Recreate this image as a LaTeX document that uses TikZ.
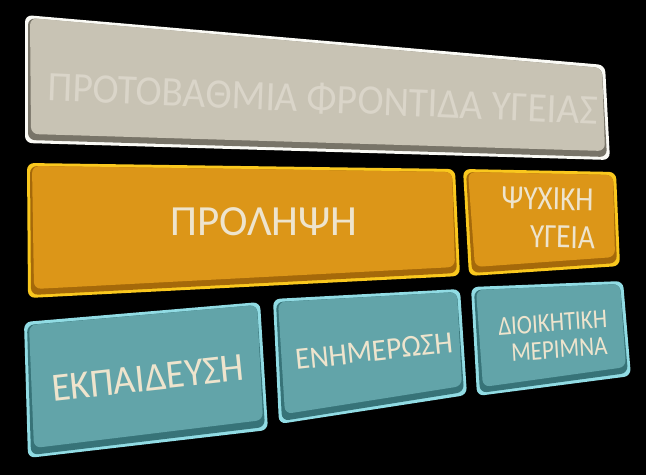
\documentclass[tikz,border=0pt]{standalone}
\usepackage{fontspec}
\setmainfont{Carlito}

\definecolor{greyrim}{RGB}{250,250,245}
\definecolor{greydark}{RGB}{120,116,104}
\definecolor{greyface}{RGB}{200,195,180}
\definecolor{greytext}{RGB}{218,213,201}
\definecolor{orangerim}{RGB}{250,200,30}
\definecolor{orangedark}{RGB}{165,105,10}
\definecolor{orangeface}{RGB}{220,150,24}
\definecolor{tealrim}{RGB}{145,220,228}
\definecolor{tealdark}{RGB}{55,115,120}
\definecolor{tealface}{RGB}{98,164,169}
\definecolor{cream}{RGB}{238,228,205}

\tikzset{
  rim/.style={rounded corners=7pt},
  label/.style={text=cream, align=center, inner sep=0pt},
}

\begin{document}
\begin{tikzpicture}[x=1pt,y=-1pt]
    \fill[black] (0,0) rectangle (646,475);
    \useasboundingbox (0,0) rectangle (646,475);

    % top row
    \fill[greyrim, rim] (25,15) -- (605,65) -- (610,160) -- (25,143) -- cycle;
    \fill[greydark, rim] (28,18) -- (602,68) -- (607,157) -- (28,140) -- cycle;
    \fill[greyface, rim] (30,18) -- (602,68) -- (605,151) -- (31,134) -- cycle;
    \node[label, text=greytext, font=\fontsize{42}{44}\selectfont, xscale=0.94, rotate=-2.3] (pfy) at (323,99) {ΠΡΟΤΟΒΑΘΜΙΑ ΦΡΟΝΤΙΔΑ ΥΓΕΙΑΣ};

    % middle row
    \fill[orangerim, rim] (27,163) -- (455,169) -- (460,276) -- (28,298) -- cycle;
    \fill[orangedark, rim] (30,166) -- (452,172) -- (457,273) -- (31,295) -- cycle;
    \fill[orangeface, rim] (32,166) -- (452,172) -- (455,267) -- (34,289) -- cycle;
    \node[label, font=\fontsize{43}{46}\selectfont] (prolipsi) at (264,222) {ΠΡΟΛΗΨΗ};

    \fill[orangerim, rim] (463,169) -- (616,172) -- (620,266) -- (469,276) -- cycle;
    \fill[orangedark, rim] (466,172) -- (613,175) -- (617,263) -- (472,273) -- cycle;
    \fill[orangeface, rim] (468,172) -- (613,175) -- (615,257) -- (475,267) -- cycle;
    \node[label, font=\fontsize{34}{38}\selectfont, xscale=0.86, rotate=-1] (psychiki) at (555,218)
        {ΨΥΧΙΚΗ\hspace*{18pt}\\\hspace*{18pt}ΥΓΕΙΑ};

    % bottom row
    \fill[tealrim, rim] (24,322) -- (260,302) -- (268,430) -- (28,458) -- cycle;
    \fill[tealdark, rim] (27,325) -- (257,305) -- (265,427) -- (31,455) -- cycle;
    \fill[tealface, rim] (29,325) -- (257,305) -- (263,420) -- (34,448) -- cycle;
    \node[label, font=\fontsize{40}{44}\selectfont, xscale=0.95, rotate=6] (ekpaideysi) at (148,378) {ΕΚΠΑΙΔΕΥΣΗ};

    \fill[tealrim, rim] (273,299) -- (460,289) -- (467,395) -- (279,424) -- cycle;
    \fill[tealdark, rim] (276,302) -- (457,292) -- (464,392) -- (282,421) -- cycle;
    \fill[tealface, rim] (278,302) -- (457,292) -- (462,386) -- (285,414) -- cycle;
    \node[label, font=\fontsize{31}{34}\selectfont, xscale=0.95, rotate=6] (enimerosi) at (374,351) {ΕΝΗΜΕΡΩΣΗ};

    \fill[tealrim, rim] (471,287) -- (623,281) -- (631,376) -- (477,396) -- cycle;
    \fill[tealdark, rim] (474,290) -- (620,284) -- (628,373) -- (480,393) -- cycle;
    \fill[tealface, rim] (476,290) -- (620,284) -- (626,367) -- (483,387) -- cycle;
    \node[label, font=\fontsize{27}{27}\selectfont, xscale=0.85, rotate=4] (dioikitiki) at (556,336)
        {ΔΙΟΙΚΗΤΙΚΗ\hspace*{6pt}\\\hspace*{6pt}ΜΕΡΙΜΝΑ};
\end{tikzpicture}
\end{document}
